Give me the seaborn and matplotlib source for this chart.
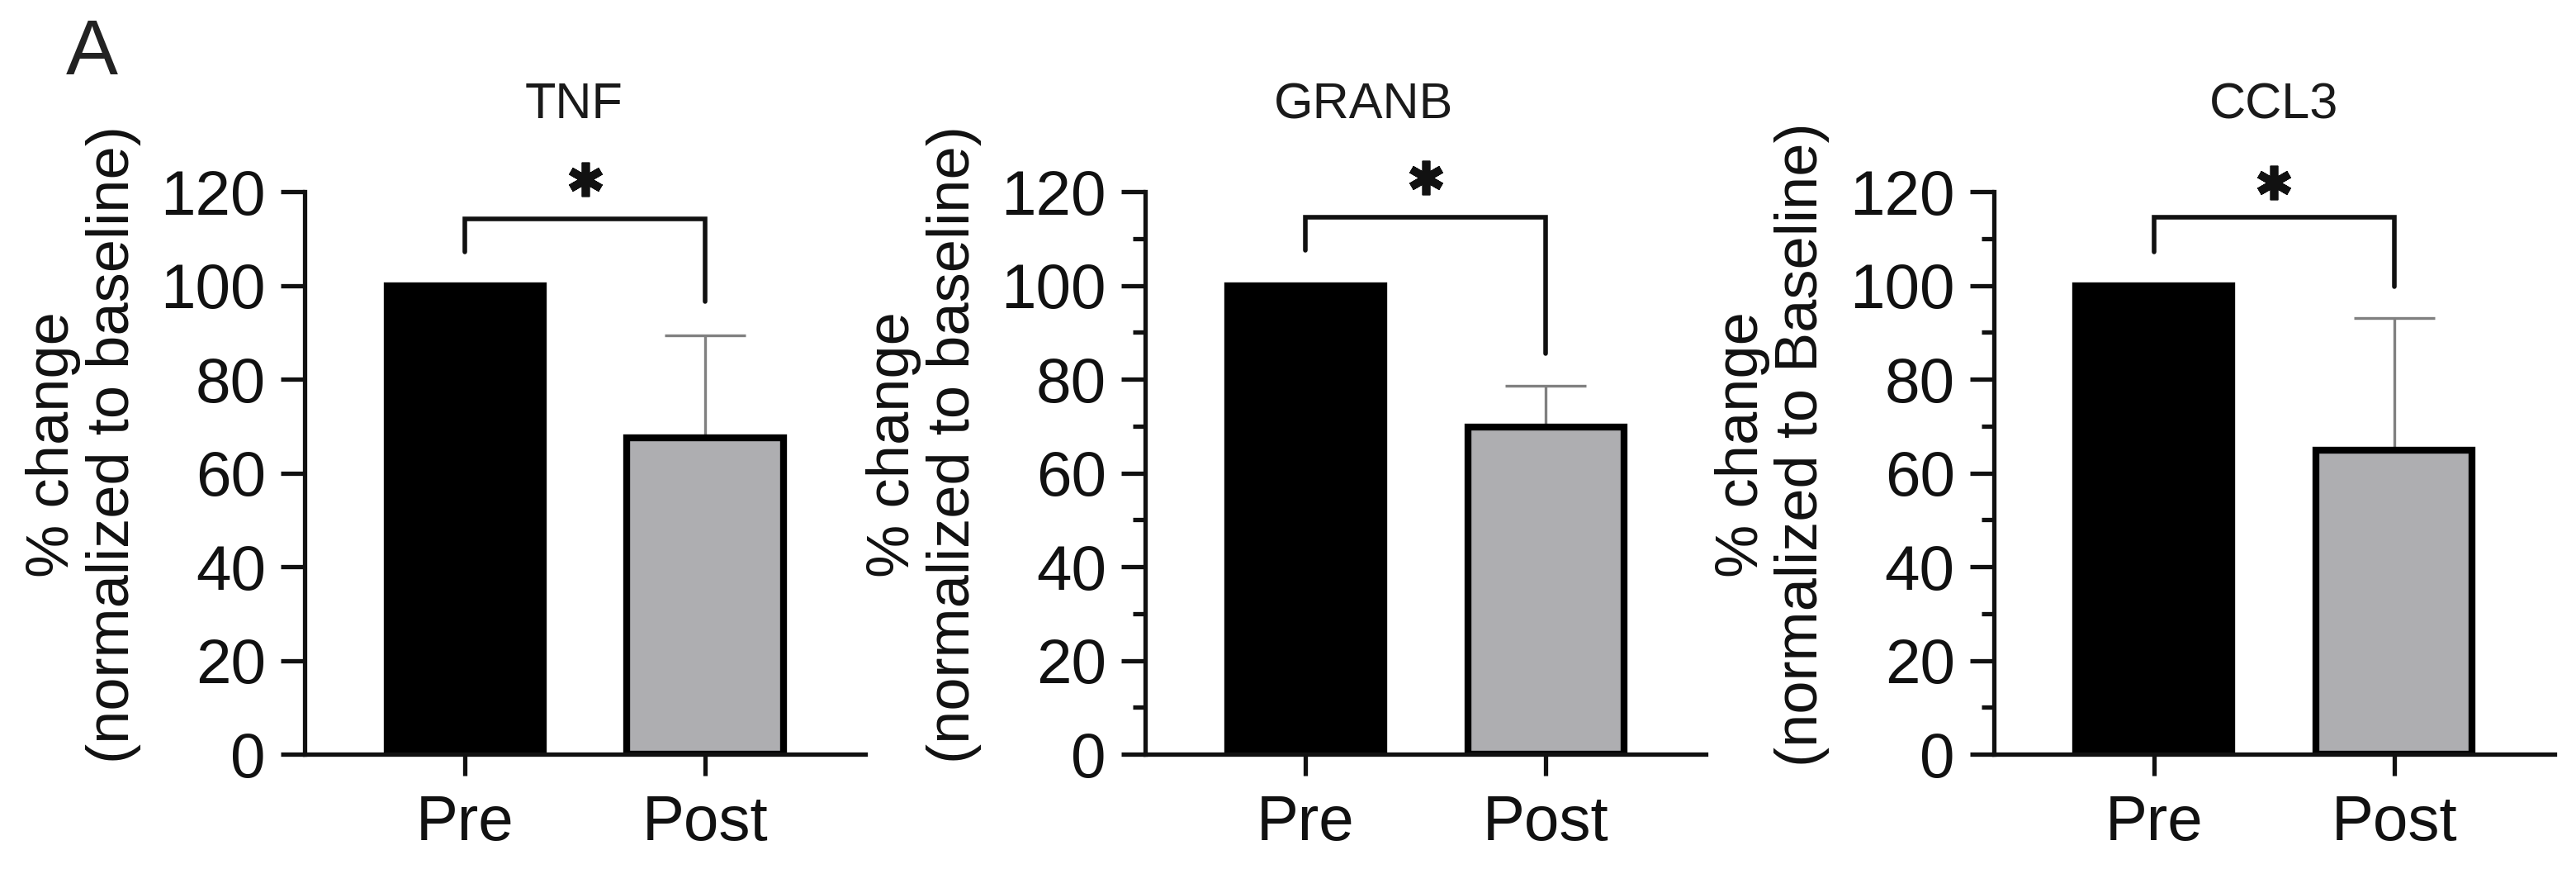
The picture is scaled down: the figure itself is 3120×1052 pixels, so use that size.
import matplotlib
matplotlib.use('Agg')
import matplotlib.pyplot as plt
from matplotlib.ticker import MultipleLocator
import pandas as pd
import seaborn as sns

sns.set_style('ticks')
plt.rcParams['font.family'] = ['Liberation Sans', 'DejaVu Sans']

# --- data ---
genes = ['TNF', 'GRANB', 'CCL3']
groups = ['Pre', 'Post']
pre_vals = [100, 100, 100]
post_vals = [67.5, 69.8, 64.8]
post_err = [21.8, 8.8, 28.2]          # upper SD of Post
ylabels = ['% change\n(normalized to baseline)',
           '% change\n(normalized to baseline)',
           '% change\n(normalized to Baseline)']
# significance bracket: left leg bottom, top, right leg bottom, star
br_left = [107.1, 107.5, 107.2]
br_top = [114.2, 114.5, 114.5]
br_right = [96.6, 85.5, 99.8]
star_y = [122.6, 123.0, 122.0]

bar_colors = ['#000000', '#AEADB2']

fig = plt.figure(figsize=(31.2, 10.52), dpi=100)
lefts = [0.1183, 0.4446, 0.774]
title_x = [0.48, 0.389, 0.5]
minor = [False, True, True]

for i, g in enumerate(genes):
    ax = fig.add_axes([lefts[i], 0.1321, 0.2176, 0.6473])
    df = pd.DataFrame({'group': groups, 'value': [pre_vals[i], post_vals[i]]})

    ax.errorbar(1, post_vals[i], yerr=[[0], [post_err[i]]], fmt='none',
                ecolor='#808080', elinewidth=2.4, capsize=35, capthick=2.4, zorder=1)
    sns.barplot(data=df, x='group', y='value', hue='group', palette=bar_colors,
                width=0.65, edgecolor='black', linewidth=6, legend=False,
                errorbar=None, ax=ax, zorder=2)

    # bracket + star
    ax.plot([0, 0, 1, 1], [br_left[i], br_top[i], br_top[i], br_right[i]],
            color='#111111', lw=4, solid_joinstyle='miter', clip_on=False)
    ax.plot(0.5, star_y[i], marker=(6, 2, 0), ms=30, mew=7, color='#111111',
            clip_on=False)

    ax.set_xlim(-0.667, 1.667)
    ax.set_ylim(0, 120)
    ax.set_yticks(range(0, 121, 20))
    if minor[i]:
        ax.yaxis.set_minor_locator(MultipleLocator(10))
    ax.set_xlabel('')
    ax.set_ylabel(ylabels[i], fontsize=52, linespacing=1.1, color='#111111')
    ax.yaxis.set_label_coords(-0.395, 0.55)
    ax.yaxis.label.set_verticalalignment('center')

    ax.set_title(g, fontsize=44, x=title_x[i], pad=64, color='#1a1a1a')

    sns.despine(ax=ax)
    for s in ['left', 'bottom']:
        ax.spines[s].set_linewidth(3.8)
        ax.spines[s].set_color('#111111')
    ax.tick_params(axis='y', which='major', length=21, width=3.8, pad=13,
                   labelsize=55, colors='#111111')
    ax.tick_params(axis='y', which='minor', length=11, width=3.8, colors='#111111')
    ax.tick_params(axis='x', length=19, width=3.8, pad=16, labelsize=55,
                   colors='#111111')

fig.text(0.0256, 0.9144, 'A', fontsize=68, color='#222222', ha='left', va='baseline')

fig.savefig('out.png', dpi=100, facecolor='white')
